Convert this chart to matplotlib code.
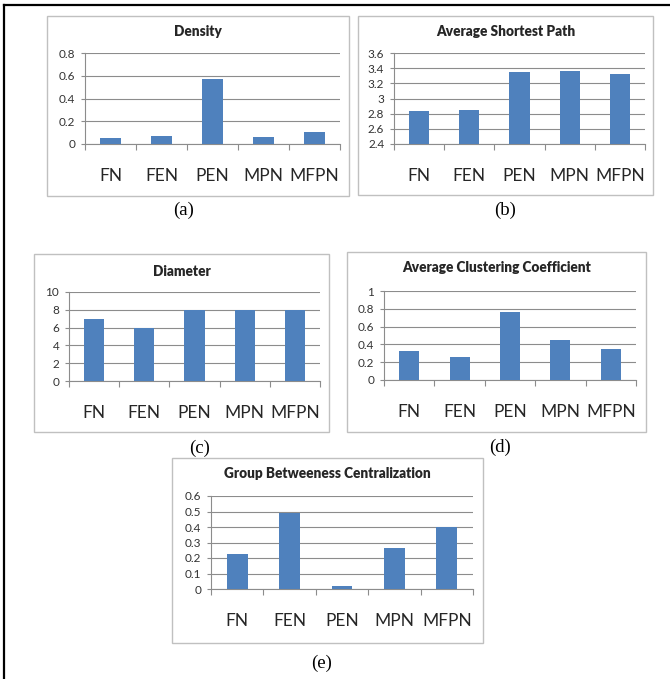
import matplotlib
matplotlib.use('Agg')
import matplotlib.pyplot as plt
from matplotlib.patches import Rectangle
from matplotlib.lines import Line2D

plt.rcParams['font.family'] = ['Lato', 'DejaVu Sans']

# data
categories = ['FN', 'FEN', 'PEN', 'MPN', 'MFPN']
density = [0.056, 0.068, 0.568, 0.062, 0.106]
avg_shortest_path = [2.83, 2.85, 3.35, 3.36, 3.32]
diameter = [7, 6, 8, 8, 8]
avg_clustering = [0.325, 0.261, 0.765, 0.451, 0.347]
group_betweenness = [0.224, 0.489, 0.021, 0.265, 0.399]

titles = ['Density', 'Average Shortest Path', 'Diameter',
          'Average Clustering Coefficient', 'Group Betweeness Centralization']
captions = ['(a)', '(b)', '(c)', '(d)', '(e)']
yticks = [[0, 0.2, 0.4, 0.6, 0.8],
          [2.4, 2.6, 2.8, 3, 3.2, 3.4, 3.6],
          [0, 2, 4, 6, 8, 10],
          [0, 0.2, 0.4, 0.6, 0.8, 1],
          [0, 0.1, 0.2, 0.3, 0.4, 0.5, 0.6]]
series = [density, avg_shortest_path, diameter, avg_clustering, group_betweenness]

W, H = 670, 679
fig = plt.figure(figsize=(W / 100, H / 100), dpi=100)

# pixel layout: box (l, t, r, b), plot area (l, t, r, b), caption (x, y)
boxes = [(47, 16, 349, 196), (358, 16, 653, 195), (34, 254, 329, 432),
         (347, 252, 646, 432), (172, 458, 483, 643)]
plots = [(85, 53, 340, 144), (394, 53, 645, 144), (69, 292, 320, 381),
         (384, 291, 636, 380), (211, 496, 473, 589)]
title_y = [32, 32, 271, 268, 474]
cap_pos = [(184, 210), (505, 210), (200, 448), (500, 447), (322, 663)]


def fx(x):
    return x / W


def fy(y):
    return 1 - y / H


# outer frame
fig.add_artist(Line2D([fx(3.5), fx(3.5)], [fy(4.5), fy(H + 5)], color='black', lw=1.6))
fig.add_artist(Line2D([fx(3.5), fx(W + 5)], [fy(4.5), fy(4.5)], color='black', lw=1.6))

grid_col = '#8c8c8c'
bar_col = '#4f81bd'

for i in range(5):
    bl, bt, br, bb = boxes[i]
    fig.add_artist(Rectangle((fx(bl), fy(bb)), fx(br - bl), (bb - bt) / H,
                             fill=False, edgecolor='#c0c0c0', lw=1.0))
    pl, pt, pr, pb = plots[i]
    ax = fig.add_axes([fx(pl), fy(pb), fx(pr - pl), (pb - pt) / H])
    ax.bar(range(len(categories)), series[i], width=0.4, color=bar_col, zorder=3)
    ax.set_xlim(-0.5, len(categories) - 0.5)
    ax.set_ylim(yticks[i][0], yticks[i][-1])
    ax.set_yticks(yticks[i])
    ax.set_yticklabels([f'{v:g}' for v in yticks[i]], fontsize=8.5, color='#333333')
    ax.yaxis.grid(True, color=grid_col, lw=0.8, zorder=0)
    for s in ['top', 'right']:
        ax.spines[s].set_visible(False)
    ax.spines['left'].set_color(grid_col)
    ax.spines['bottom'].set_color(grid_col)
    ax.spines['left'].set_linewidth(0.8)
    ax.spines['bottom'].set_linewidth(0.8)
    ax.set_xticks([k - 0.5 for k in range(len(categories) + 1)])
    ax.set_xticklabels([])
    ax.set_xticks(range(len(categories)), minor=True)
    ax.set_xticklabels(categories, minor=True, fontsize=12.5, color='#262626')
    ax.tick_params(axis='x', which='major', length=4, color=grid_col, width=0.8)
    ax.tick_params(axis='x', which='minor', length=0, pad=17)
    ax.tick_params(axis='y', length=3, color=grid_col, width=0.8, pad=4)
    fig.text(fx((bl + br) / 2), fy(title_y[i]), titles[i], ha='center', va='center',
             fontsize=9.8, fontweight='heavy', color='#262626')
    cx, cy = cap_pos[i]
    fig.text(fx(cx), fy(cy), captions[i], ha='center', va='center',
             fontsize=13.5, family='Liberation Serif', color='black')

fig.savefig('out.png', dpi=100)
